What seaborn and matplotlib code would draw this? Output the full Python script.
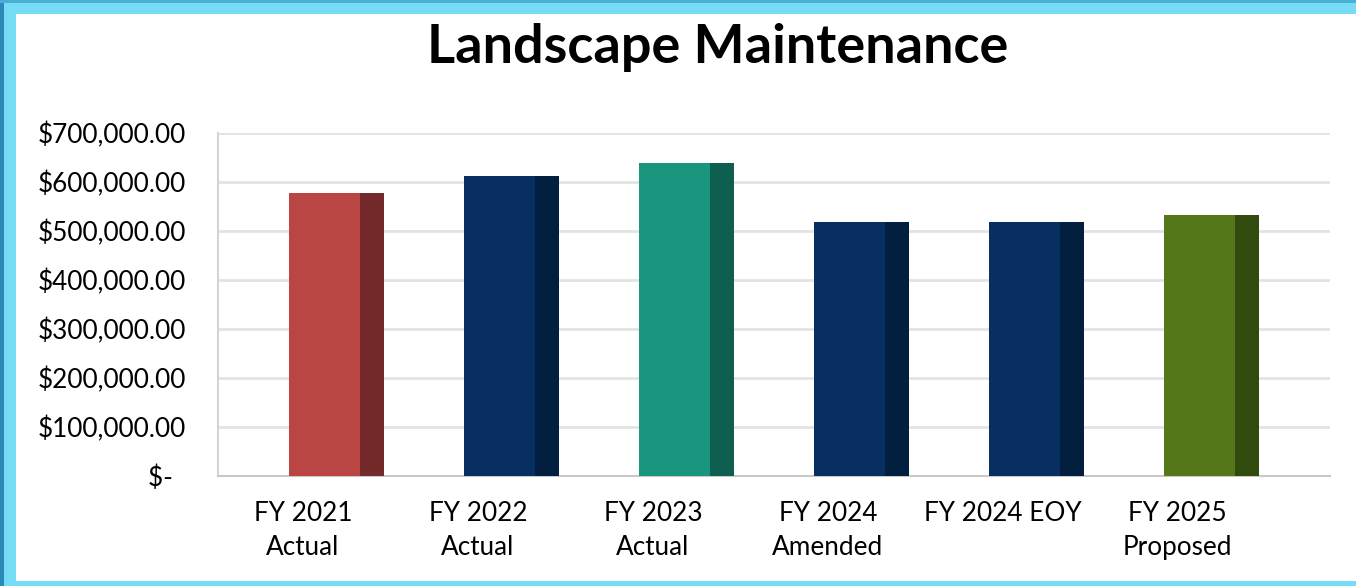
import numpy as np
import pandas as pd
import matplotlib
matplotlib.use("Agg")
import matplotlib.pyplot as plt
from matplotlib.patches import Rectangle
from matplotlib.ticker import FuncFormatter
import seaborn as sns

categories = ["FY 2021\nActual", "FY 2022\nActual", "FY 2023\nActual",
              "FY 2024\nAmended", "FY 2024 EOY", "FY 2025\nProposed"]
values = [577000, 613000, 638000, 518000, 519000, 533000]
front_colors = ["#BA4643", "#072F61", "#1A957E", "#072F61", "#072F61", "#54771A"]
side_colors = ["#74292A", "#021F3F", "#0F5F50", "#021F3F", "#021F3F", "#314A0E"]
title = "Landscape Maintenance"

sns.set_theme(style="white")
plt.rcParams["font.family"] = ["Lato", "DejaVu Sans"]

W, H = 1356, 586
fig = plt.figure(figsize=(W / 100, H / 100), dpi=100)
fig.patch.set_facecolor("#76DCF5")
# white panel and darker border strips
fig.add_artist(Rectangle((16 / W, 5 / H), 1 - 16 / W, (581 - 14) / H,
                         transform=fig.transFigure, facecolor="white", edgecolor="none", zorder=0))
fig.add_artist(Rectangle((0, 0), 4 / W, 1, transform=fig.transFigure,
                         facecolor="#2C88B6", edgecolor="none", zorder=0))
fig.add_artist(Rectangle((0, 1 - 3 / H), 1, 3 / H, transform=fig.transFigure,
                         facecolor="#4AAFD5", edgecolor="none", zorder=0))

ax = fig.add_axes([218 / W, 1 - 476 / H, (1330 - 218) / W, (476 - 133) / H])
ax.set_facecolor("none")

pos = np.arange(len(categories))
front_w = 0.406
side_w = 0.137
df_front = pd.DataFrame({"x": pos - side_w / 2, "v": values, "c": categories})
df_side = pd.DataFrame({"x": pos + front_w / 2, "v": values, "c": categories})

sns.barplot(data=df_front, x="x", y="v", hue="c", palette=dict(zip(categories, front_colors)),
            native_scale=True, width=front_w, dodge=False, legend=False, ax=ax,
            saturation=1, linewidth=0, zorder=3)
sns.barplot(data=df_side, x="x", y="v", hue="c", palette=dict(zip(categories, side_colors)),
            native_scale=True, width=side_w, dodge=False, legend=False, ax=ax,
            saturation=1, linewidth=0, zorder=3)

ax.set_xlim(-0.676, 5.68)
ax.set_ylim(0, 700000)
ax.set_yticks(np.arange(0, 700001, 100000))
ax.yaxis.set_major_formatter(FuncFormatter(lambda v, p: "$-  " if v == 0 else f"${v:,.2f}"))
ax.set_xticks(pos - 0.19)
ax.set_xticklabels(categories, linespacing=1.45)
ax.tick_params(axis="both", length=0, labelsize=18.8, colors="black")
ax.tick_params(axis="y", pad=23)
ax.tick_params(axis="x", pad=18)
ax.set_xlabel("")
ax.set_ylabel("")

ax.grid(axis="y", color="#E3E3E3", linewidth=2, zorder=0)
ax.set_axisbelow(True)
for s in ["top", "right"]:
    ax.spines[s].set_visible(False)
ax.spines["left"].set_color("#D4D4D4")
ax.spines["left"].set_linewidth(1.5)
ax.spines["bottom"].set_color("#C8C8C8")
ax.spines["bottom"].set_linewidth(1.5)

fig.text(718 / W, 1 - 47 / H, title, ha="center", va="center",
         fontsize=39, fontweight="bold", color="black")

fig.savefig("out.png", dpi=100, facecolor=fig.get_facecolor())
